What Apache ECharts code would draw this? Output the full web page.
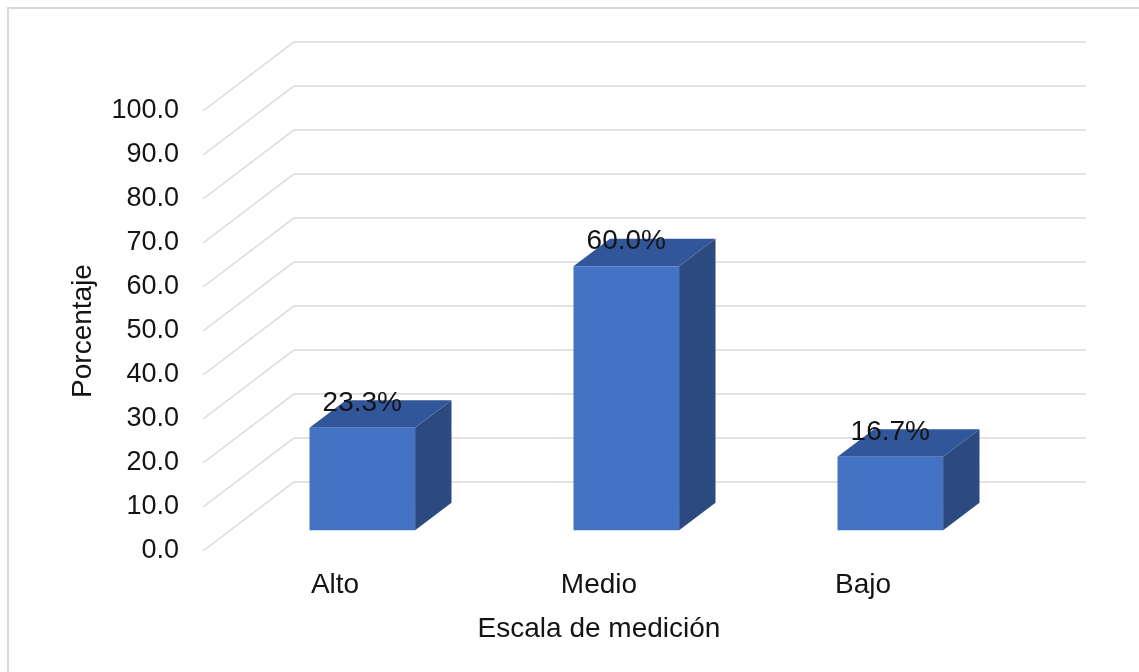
<!DOCTYPE html>
<html>
<head>
<meta charset="utf-8">
<title>Escala de medición</title>
<script src="https://cdn.jsdelivr.net/npm/echarts@6/dist/echarts.min.js"></script>
<style>
  html, body { margin: 0; padding: 0; background: #ffffff; }
  #chart { width: 1139px; height: 672px; }
</style>
</head>
<body>
<div id="chart"></div>
<script>
// Categories and percentages
const categories = ['Alto', 'Medio', 'Bajo'];
const percentages = [23.3, 60.0, 16.7];
const valueTicks = [0, 10, 20, 30, 40, 50, 60, 70, 80, 90, 100];

// Pseudo-3D depth of the plot box (pixels) and bar slab within it
const DEPTH_X = 91;
const DEPTH_Y = -69;
const BAR_FRONT = 0.3;   // fraction of depth where the bar front face sits
const BAR_DEPTH = 0.4;   // fraction of depth taken by the bar
const BAR_WIDTH = 0.4;   // fraction of the category band

const FONT = 'Liberation Sans, Arial, sans-serif';
const TEXT = '#141414';

const chart = echarts.init(document.getElementById('chart'), null, { renderer: 'canvas' });

// Side wall + back wall gridlines
function renderWall(params, api) {
  const cs = params.coordSys;
  const v = api.value(1);
  const y = api.coord([0, v])[1];
  const x0 = cs.x;
  return {
    type: 'polyline',
    shape: {
      points: [
        [x0, y],
        [x0 + DEPTH_X, y + DEPTH_Y],
        [x0 + cs.width + DEPTH_X, y + DEPTH_Y]
      ]
    },
    style: { stroke: '#d9d9d9', lineWidth: 1.5, fill: null },
    silent: true
  };
}

// 3D box for each bar: front, top and side faces with the value label
function renderBar(params, api) {
  const ci = api.value(0);
  const v = api.value(1);
  const base = api.coord([ci, 0]);
  const top = api.coord([ci, v]);
  const band = api.size([1, 0])[0];
  const w = band * BAR_WIDTH;
  const cx = base[0] + BAR_FRONT * DEPTH_X;
  const yb = base[1] + BAR_FRONT * DEPTH_Y;
  const yt = top[1] + BAR_FRONT * DEPTH_Y;
  const dx = BAR_DEPTH * DEPTH_X;
  const dy = BAR_DEPTH * DEPTH_Y;
  const l = cx - w / 2, r = cx + w / 2;
  return {
    type: 'group',
    children: [
      {
        type: 'polygon',
        shape: { points: [[r, yt], [r + dx, yt + dy], [r + dx, yb + dy], [r, yb]] },
        style: { fill: '#2c4a7f' }
      },
      {
        type: 'polygon',
        shape: { points: [[l, yt], [r, yt], [r + dx, yt + dy], [l + dx, yt + dy]] },
        style: { fill: '#31569a' }
      },
      {
        type: 'rect',
        shape: { x: l, y: yt, width: w, height: yb - yt },
        style: { fill: '#4472c4' }
      },
      {
        type: 'text',
        x: cx,
        y: yt + dy + 3,
        style: {
          text: v.toFixed(1) + '%',
          fill: TEXT,
          font: '28px ' + FONT,
          align: 'center',
          verticalAlign: 'middle'
        },
        z2: 10
      }
    ]
  };
}

chart.setOption({
  backgroundColor: '#ffffff',
  animation: false,
  graphic: [{
    type: 'rect',
    shape: { x: 8, y: 8, width: 1200, height: 720 },
    style: { fill: null, stroke: '#d9d9d9', lineWidth: 2 },
    silent: true,
    z: -10
  }],
  grid: {
    left: 203,
    right: 144,
    top: 111,
    bottom: 121,
    containLabel: false,
    outerBoundsMode: 'none'
  },
  xAxis: {
    type: 'category',
    data: categories,
    axisLine: { show: false },
    axisTick: { show: false },
    splitLine: { show: false },
    axisLabel: { color: TEXT, fontSize: 28, fontFamily: FONT, margin: 20 },
    name: 'Escala de medición',
    nameLocation: 'middle',
    nameGap: 64,
    nameTextStyle: { color: TEXT, fontSize: 28, fontFamily: FONT }
  },
  yAxis: {
    type: 'value',
    min: 0,
    max: 100,
    interval: 10,
    axisLine: { show: false },
    axisTick: { show: false },
    splitLine: { show: false },
    axisLabel: {
      color: TEXT, fontSize: 27, fontFamily: FONT, margin: 24,
      formatter: (val) => val.toFixed(1)
    },
    name: 'Porcentaje',
    nameLocation: 'middle',
    nameRotate: 90,
    nameGap: 106,
    nameTextStyle: { color: TEXT, fontSize: 28, fontFamily: FONT }
  },
  series: [
    {
      type: 'custom',
      name: 'walls',
      renderItem: renderWall,
      data: valueTicks.map((t) => [0, t]),
      z: 1,
      silent: true,
      clip: false
    },
    {
      type: 'custom',
      name: 'Porcentaje',
      renderItem: renderBar,
      data: percentages.map((p, i) => [i, p]),
      z: 5,
      clip: false
    }
  ]
});
</script>
</body>
</html>
